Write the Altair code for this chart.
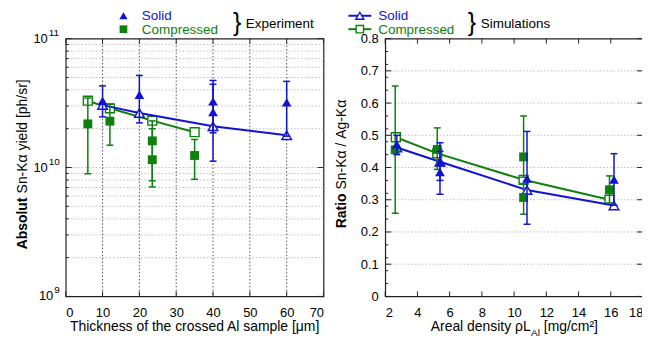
import altair as alt
import pandas as pd

FONT = "Liberation Sans"
BLUE = "#1212d2"
GREEN = "#0e800e"
GRID_LIGHT = "#bdbdbd"
GRID_DARK = "#555555"

# ---------------- Left panel: absolute Sn-Ka yield vs thickness ----------------
thick_sim_solid = [10, 20, 40, 60]
yield_sim_solid = [3.05e10, 2.65e10, 2.09e10, 1.78e10]
thick_sim_comp = [6, 12, 23.5, 35]
yield_sim_comp = [3.3e10, 2.88e10, 2.31e10, 1.88e10]

thick_exp_solid = [10, 20, 40, 40, 60]
yield_exp_solid = [3.3e10, 3.67e10, 3.26e10, 2.7e10, 3.2e10]
yield_exp_solid_lo = [2.47e10, 2.22e10, 1.12e10, 1.86e10, 1.75e10]
yield_exp_solid_hi = [4.3e10, 5.18e10, 4.74e10, 4.43e10, 4.66e10]

thick_exp_comp = [6, 12, 23.5, 23.5, 35]
yield_exp_comp = [2.18e10, 2.29e10, 1.61e10, 1.15e10, 1.24e10]
yield_exp_comp_lo = [8.95e9, 1.49e10, 7.9e9, 7.07e9, 8.1e9]
yield_exp_comp_hi = [3.46e10, 3.1e10, 2.3e10, 2.0e10, 1.65e10]

left_x_ticks = [0, 10, 20, 30, 40, 50, 60, 70]
left_x_grid = [10, 20, 30, 40, 50, 60]
left_y_major = [1e9, 1e10, 1e11]
left_y_exp = ["9", "10", "11"]
left_y_minor = [2e9, 3e9, 4e9, 5e9, 6e9, 7e9, 8e9, 9e9,
                2e10, 3e10, 4e10, 5e10, 6e10, 7e10, 8e10, 9e10]
left_y_grid = [2e9, 3e9, 4e9, 5e9, 6e9, 7e9, 8e9, 9e9, 1e10,
               2e10, 3e10, 4e10, 5e10, 6e10, 7e10, 8e10, 9e10]

# ---------------- Right panel: ratio vs areal density ----------------
ad_sim_solid = [2.72, 5.4, 10.8, 16.2]
ratio_sim_solid = [0.462, 0.418, 0.330, 0.282]
ad_sim_comp = [2.66, 5.23, 10.59, 15.92]
ratio_sim_comp = [0.494, 0.444, 0.362, 0.300]

ad_exp_solid = [2.72, 5.4, 5.4, 10.8, 16.2]
ratio_exp_solid = [0.472, 0.417, 0.386, 0.366, 0.363]
ratio_exp_solid_lo = [0.44, 0.36, 0.317, 0.224, 0.283]
ratio_exp_solid_hi = [0.50, 0.477, 0.45, 0.512, 0.443]

ad_exp_comp = [2.62, 5.23, 10.59, 10.59, 15.92]
ratio_exp_comp = [0.455, 0.456, 0.433, 0.307, 0.331]
ratio_exp_comp_lo = [0.258, 0.394, 0.37, 0.255, 0.29]
ratio_exp_comp_hi = [0.653, 0.523, 0.56, 0.35, 0.374]

right_x_ticks = [2, 4, 6, 8, 10, 12, 14, 16, 18]
right_y_ticks = [0, 0.1, 0.2, 0.3, 0.4, 0.5, 0.6, 0.7, 0.8]
right_y_grid = [0.1, 0.2, 0.3, 0.4, 0.5, 0.6, 0.7]
right_y_minor = [0.04, 0.08, 0.12, 0.16, 0.24, 0.28, 0.32, 0.36, 0.44, 0.48,
                 0.52, 0.56, 0.64, 0.68, 0.72, 0.76]

# ---------------- Texts ----------------
legend_exp_labels = ["Solid", "Compressed"]
legend_sim_labels = ["Solid", "Compressed"]
legend_groups = ["Experiment", "Simulations"]
left_ytitle = ["Absolut", "Sn-Kα yield [ph/sr]"]
right_ytitle = ["Ratio", "Sn-Kα / Ag-Kα"]
left_xtitle = "Thickness of the crossed Al sample [μm]"
right_xtitle = ["Areal density ρL", "Al", "[mg/cm²]"]

W = 259
H = 259


def one(text=""):
    return pd.DataFrame({"t": [text]})


def txt(text, x, y, size=14, color="black", weight="normal", align="left",
        baseline="alphabetic", angle=0):
    kw = dict(font=FONT, fontSize=size, color=color, fontWeight=weight,
              align=align, baseline=baseline)
    if angle:
        kw["angle"] = angle
    return alt.Chart(one(text)).mark_text(**kw).encode(
        x=alt.value(x), y=alt.value(y), text="t:N")


def make_panel(xscale, yscale, xaxis, yaxis, sims, exps, grid_h, grid_v,
               x_ticks, y_ticks_major, y_ticks_minor):
    def X(f):
        return alt.X(f, type="quantitative", scale=xscale, axis=xaxis)

    def Y(f):
        return alt.Y(f, type="quantitative", scale=yscale, axis=yaxis)

    layers = []
    # grids
    layers.append(alt.Chart(pd.DataFrame({"v": grid_h})).mark_rule(
        color=GRID_LIGHT, strokeDash=[1.5, 2], strokeWidth=1).encode(y=Y("v")))
    if grid_v:
        layers.append(alt.Chart(pd.DataFrame({"v": grid_v})).mark_rule(
            color=GRID_DARK, strokeDash=[1.5, 2], strokeWidth=1).encode(x=X("v")))
    # inward ticks
    xt = pd.DataFrame({"v": x_ticks})
    layers.append(alt.Chart(xt).mark_rule(color="#222", strokeWidth=1).encode(
        x=X("v"), y=alt.value(H), y2=alt.value(H - 5)))
    layers.append(alt.Chart(xt).mark_rule(color="#222", strokeWidth=1).encode(
        x=X("v"), y=alt.value(0), y2=alt.value(5)))
    ytm = pd.DataFrame({"v": y_ticks_major})
    layers.append(alt.Chart(ytm).mark_rule(color="#222", strokeWidth=1).encode(
        y=Y("v"), x=alt.value(0), x2=alt.value(6)))
    layers.append(alt.Chart(ytm).mark_rule(color="#222", strokeWidth=1).encode(
        y=Y("v"), x=alt.value(W), x2=alt.value(W - 6)))
    ytn = pd.DataFrame({"v": y_ticks_minor})
    layers.append(alt.Chart(ytn).mark_rule(color="#222", strokeWidth=1).encode(
        y=Y("v"), x=alt.value(0), x2=alt.value(3)))
    # simulations
    for xs, ys, color, shape, size in sims:
        df = pd.DataFrame({"x": xs, "y": ys})
        layers.append(alt.Chart(df).mark_line(color=color, strokeWidth=2).encode(
            x=X("x"), y=Y("y")))
        layers.append(alt.Chart(df).mark_point(
            shape=shape, filled=True, fill="white", stroke=color, strokeWidth=1.4,
            size=size, opacity=1).encode(x=X("x"), y=Y("y")))
    # experiments
    for xs, ys, lo, hi, color, shape, size in exps:
        df = pd.DataFrame({"x": xs, "y": ys, "lo": lo, "hi": hi})
        layers.append(alt.Chart(df).mark_rule(color=color, strokeWidth=1.5).encode(
            x=X("x"), y=Y("lo"), y2=alt.Y2("hi")))
        for f in ["lo", "hi"]:
            layers.append(alt.Chart(df).mark_tick(
                color=color, orient="horizontal", thickness=1.5, size=7, opacity=1
            ).encode(x=X("x"), y=Y(f)))
        layers.append(alt.Chart(df).mark_point(
            shape=shape, filled=True, color=color, size=size, opacity=1).encode(
            x=X("x"), y=Y("y")))
    return layers, X, Y


label_axis_common = dict(ticks=False, tickSize=0, domain=False, grid=False, title=None,
                         labelFont=FONT, labelFontSize=13, labelColor="black")

# ---- left panel
lx_scale = alt.Scale(domain=[0, 70], nice=False, zero=False)
ly_scale = alt.Scale(type="log", domain=[1e9, 1e11], nice=False)
lx_axis = alt.Axis(values=left_x_ticks, labelPadding=10, **label_axis_common)

left_layers, LX, LY = make_panel(
    lx_scale, ly_scale, lx_axis, None,
    sims=[(thick_sim_comp, yield_sim_comp, GREEN, "square", 80),
          (thick_sim_solid, yield_sim_solid, BLUE, "triangle-up", 95)],
    exps=[(thick_exp_comp, yield_exp_comp, yield_exp_comp_lo, yield_exp_comp_hi,
           GREEN, "square", 80),
          (thick_exp_solid, yield_exp_solid, yield_exp_solid_lo, yield_exp_solid_hi,
           BLUE, "triangle-up", 95)],
    grid_h=left_y_grid, grid_v=left_x_grid, x_ticks=left_x_ticks,
    y_ticks_major=left_y_major, y_ticks_minor=left_y_minor)

# custom log tick labels 10^n
ylab = pd.DataFrame({"v": left_y_major, "exp": left_y_exp, "base": ["10"] * 3})
for cond, bx, ex in [("length(datum.exp) == 2", -18, -17), ("length(datum.exp) == 1", -12.5, -11.5)]:
    left_layers.append(alt.Chart(ylab).transform_filter(cond).mark_text(
        font=FONT, fontSize=13, align="right", baseline="middle", color="black").encode(
        y=LY("v"), x=alt.value(bx), text="base:N"))
    left_layers.append(alt.Chart(ylab).transform_filter(cond).mark_text(
        font=FONT, fontSize=10, align="left", baseline="middle", dy=-6, color="black").encode(
        y=LY("v"), x=alt.value(ex), text="exp:N"))

# titles
left_layers.append(txt(left_ytitle[0], -43, 211.7, weight="bold", angle=270, baseline="middle"))
left_layers.append(txt(left_ytitle[1], -43, 155.5, angle=270, baseline="middle"))
left_layers.append(txt(left_xtitle, W / 2, 294, align="center"))

# legend (drawn above the plot area)
R1, R2 = -23, -9.5            # marker rows
B1, B2 = -18.5, -5            # text baselines
LF = 13.5                     # legend font size
SX = 9                        # shift of the simulation legend block
pt = one()
left_layers.append(alt.Chart(pt).mark_point(shape="triangle-up", filled=True, color=BLUE,
                                            size=70, opacity=1).encode(
    x=alt.value(58), y=alt.value(R1)))
left_layers.append(alt.Chart(pt).mark_point(shape="square", filled=True, color=GREEN,
                                            size=60, opacity=1).encode(
    x=alt.value(58), y=alt.value(R2)))
left_layers.append(txt(legend_exp_labels[0], 76.5, B1, size=LF, color=BLUE))
left_layers.append(txt(legend_exp_labels[1], 76.5, B2, size=LF, color=GREEN))
left_layers.append(txt("}", 168, -16, size=25, baseline="middle"))
left_layers.append(txt(legend_groups[0], 181, -11, size=LF))

left_layers.append(alt.Chart(pt).mark_rule(color=BLUE, strokeWidth=2).encode(
    x=alt.value(275 + SX), x2=alt.value(298 + SX), y=alt.value(R1)))
left_layers.append(alt.Chart(pt).mark_point(shape="triangle-up", filled=True, fill="white",
                                            stroke=BLUE, strokeWidth=1.4, size=65,
                                            opacity=1).encode(
    x=alt.value(286.5 + SX), y=alt.value(R1)))
left_layers.append(alt.Chart(pt).mark_rule(color=GREEN, strokeWidth=2).encode(
    x=alt.value(275 + SX), x2=alt.value(298 + SX), y=alt.value(R2)))
left_layers.append(alt.Chart(pt).mark_point(shape="square", filled=True, fill="white",
                                            stroke=GREEN, strokeWidth=1.4, size=55,
                                            opacity=1).encode(
    x=alt.value(286.5 + SX), y=alt.value(R2)))
left_layers.append(txt(legend_sim_labels[0], 305 + SX, B1, size=LF, color=BLUE))
left_layers.append(txt(legend_sim_labels[1], 305 + SX, B2, size=LF, color=GREEN))
left_layers.append(txt("}", 395 + SX, -16, size=25, baseline="middle"))
left_layers.append(txt(legend_groups[1], 408 + SX, -11, size=LF))

# invisible anchor fixing the top-left extent of the drawing
left_layers.append(alt.Chart(pt).mark_rule(opacity=0, strokeWidth=0.01).encode(
    x=alt.value(-57), x2=alt.value(-56), y=alt.value(-45), y2=alt.value(-44)))

left = alt.layer(*left_layers).properties(width=W, height=H)

# ---- right panel
rx_scale = alt.Scale(domain=[2, 18], nice=False, zero=False)
ry_scale = alt.Scale(domain=[0, 0.8], nice=False)
rx_axis = alt.Axis(values=right_x_ticks, labelPadding=10, **label_axis_common)
ry_axis = alt.Axis(values=right_y_ticks, labelPadding=7,
                   labelExpr="datum.value == 0 ? '0' : format(datum.value, '.1f')",
                   **label_axis_common)

right_layers, RX, RY = make_panel(
    rx_scale, ry_scale, rx_axis, ry_axis,
    sims=[(ad_sim_comp, ratio_sim_comp, GREEN, "square", 80),
          (ad_sim_solid, ratio_sim_solid, BLUE, "triangle-up", 95)],
    exps=[(ad_exp_comp, ratio_exp_comp, ratio_exp_comp_lo, ratio_exp_comp_hi,
           GREEN, "square", 80),
          (ad_exp_solid, ratio_exp_solid, ratio_exp_solid_lo, ratio_exp_solid_hi,
           BLUE, "triangle-up", 95)],
    grid_h=right_y_grid, grid_v=None, x_ticks=right_x_ticks,
    y_ticks_major=right_y_ticks, y_ticks_minor=right_y_minor)

right_layers.append(txt(right_ytitle[0], -43, 190.5, weight="bold", angle=270, baseline="middle"))
right_layers.append(txt(right_ytitle[1], -43, 151.5, angle=270, baseline="middle"))
right_layers.append(txt(right_xtitle[0], 146.2, 294, align="right"))
right_layers.append(txt(right_xtitle[1], 146.6, 299, size=10))
right_layers.append(txt(right_xtitle[2], 159.3, 294))

right = alt.layer(*right_layers).properties(width=W, height=H)

chart = alt.hconcat(left, right, spacing=62, bounds="flush").properties(
    padding={"left": 0, "top": -16, "right": -3, "bottom": 0}
).configure_view(stroke="#222222", strokeWidth=1.2)

chart.save("out.html", embed_options={"renderer": "svg", "actions": False})
